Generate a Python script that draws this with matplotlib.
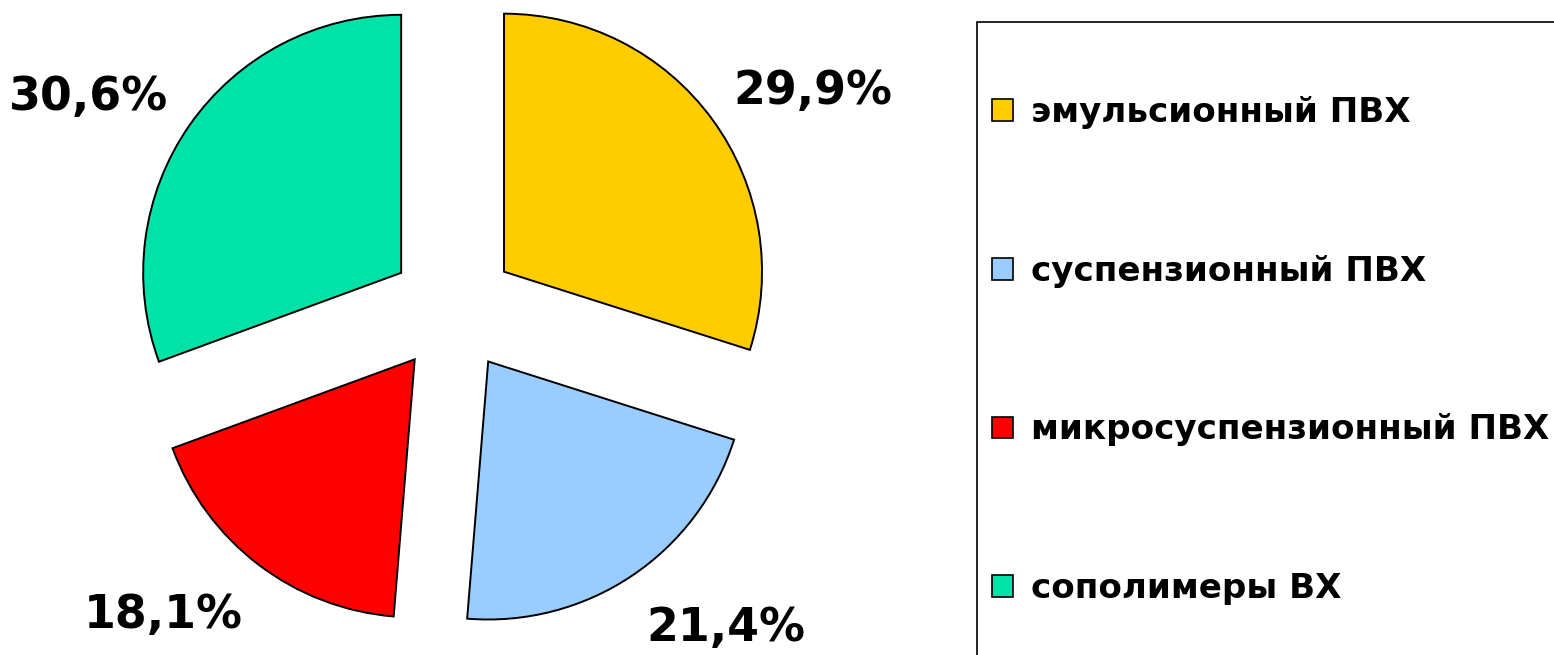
import matplotlib
matplotlib.use("Agg")
import numpy as np
import matplotlib.pyplot as plt
from matplotlib.patches import Patch, Rectangle

# data
categories = ["эмульсионный ПВХ", "суспензионный ПВХ",
              "микросуспензионный ПВХ", "сополимеры ВХ"]
shares = [29.9, 21.4, 18.1, 30.6]
colors = ["#FFCC00", "#99CCFF", "#FF0000", "#00E2A8"]

W, H = 1554, 655
R_PX = 258.0           # pie radius in pixels
CX, CY = 453.0, 346.0  # pie centre in pixels (from bottom-left)

plt.rcParams["font.family"] = ["DejaVu Sans"]
fig = plt.figure(figsize=(W / 100, H / 100), dpi=100)

ax = fig.add_axes([0, 0, 1, 1])

wedges, texts, autotexts = ax.pie(
    shares,
    colors=colors,
    startangle=90,
    counterclock=False,
    explode=[0.245] * len(shares),
    radius=1.0,
    autopct=lambda p: f"{p:.1f}%".replace(".", ","),
    wedgeprops=dict(edgecolor="black", linewidth=1.4),
    textprops=dict(fontsize=33, fontweight="bold", color="black"),
    frame=True,
)
ax.set_xlim(-CX / R_PX, (W - CX) / R_PX)
ax.set_ylim(-CY / R_PX, (H - CY) / R_PX)
ax.axis("off")

# "outside end" labels: box corner touches a point just past the arc
for w, t in zip(wedges, autotexts):
    th = np.deg2rad((w.theta1 + w.theta2) / 2)
    c, s = np.cos(th), np.sin(th)
    x0, y0 = w.center
    ky = 1.1 if s > 0 else 1.14
    t.set_position((x0 + 1.1 * w.r * c, y0 + ky * w.r * s))
    t.set_ha("left" if c > 0 else "right")
    t.set_va("baseline" if s > 0 else "top")

# legend frame (runs off the right and bottom edges like the original)
frame = Rectangle((977 / W, -0.05), 0.5, (H - 22) / H + 0.05,
                  transform=fig.transFigure, fill=False,
                  edgecolor="black", linewidth=1.2)
fig.add_artist(frame)

handles = [Patch(facecolor=c, edgecolor="black", linewidth=1.2) for c in colors]
fig.legend(handles, categories, loc="upper left",
           bbox_to_anchor=(992 / W, 1 - 96 / H),
           frameon=False, borderpad=0, borderaxespad=0,
           prop=dict(size=24.6, weight="bold"),
           handlelength=0.6, handleheight=0.6, handletextpad=0.55,
           labelspacing=3.68)

fig.savefig("out.png", dpi=100)
